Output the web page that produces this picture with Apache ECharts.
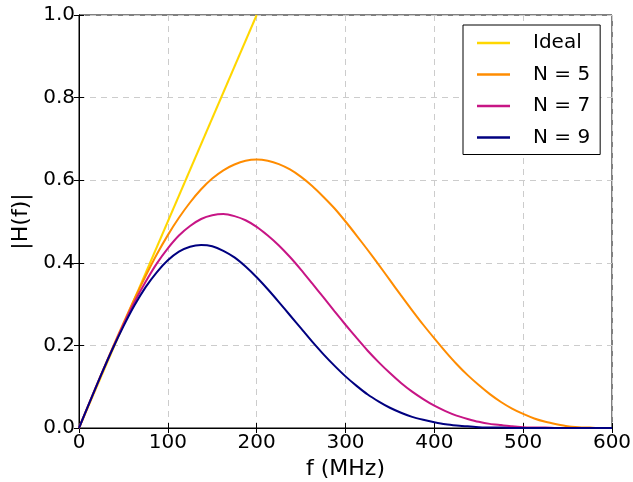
<!DOCTYPE html>
<html>
<head>
<meta charset="utf-8">
<script src="https://cdn.jsdelivr.net/npm/echarts@6/dist/echarts.min.js"></script>
<style>html,body{margin:0;padding:0;background:#fff}#c{width:633px;height:482px}</style>
</head>
<body>
<div id="c"></div>
<script>
const freqs = [0,12.5,25,37.5,50,62.5,75,87.5,100,112.5,125,137.5,150,162.5,175,187.5,200,212.5,225,237.5,250,262.5,275,287.5,300,312.5,325,337.5,350,362.5,375,387.5,400,412.5,425,437.5,450,462.5,475,487.5,500,512.5,525,537.5,550,562.5,575,587.5,600];
const idealF = [0, 200];
const idealH = [0, 1.0];
const n5 = [0,0.065,0.130,0.193,0.254,0.313,0.368,0.420,0.467,0.509,0.546,0.578,0.604,0.624,0.638,0.647,0.650,0.647,0.639,0.626,0.608,0.586,0.560,0.532,0.500,0.466,0.431,0.395,0.358,0.321,0.285,0.250,0.217,0.185,0.155,0.128,0.104,0.082,0.063,0.047,0.034,0.023,0.015,0.009,0.004,0.002,0.001,0,0];
const n7 = [0,0.065,0.129,0.191,0.250,0.305,0.354,0.398,0.435,0.466,0.489,0.506,0.515,0.518,0.513,0.503,0.487,0.466,0.442,0.414,0.383,0.350,0.317,0.283,0.250,0.218,0.187,0.159,0.133,0.109,0.088,0.070,0.054,0.041,0.030,0.022,0.015,0.010,0.007,0.004,0.002,0.001,0.001,0,0,0,0,0,0];
const n9 = [0,0.065,0.129,0.190,0.246,0.297,0.341,0.377,0.406,0.427,0.439,0.443,0.440,0.429,0.413,0.391,0.365,0.336,0.305,0.273,0.241,0.209,0.179,0.151,0.125,0.102,0.081,0.064,0.049,0.037,0.027,0.020,0.014,0.009,0.006,0.004,0.002,0.001,0.001,0,0,0,0,0,0,0,0,0,0];
const xTicks = [0,100,200,300,400,500,600];
const yTicks = [0,0.2,0.4,0.6,0.8,1.0];

const pair = (xs, ys) => xs.map((x, i) => [x, ys[i]]);
const FONT = 'DejaVu Sans';
const chart = echarts.init(document.getElementById('c'), null, {renderer: 'canvas'});

const splitStyle = {show: true, lineStyle: {color: '#cccccc', width: 1, type: [6, 5]}};
function series(name, data, color) {
  return {name, type: 'line', data, showSymbol: false, symbol: 'none', smooth: 0.2,
    lineStyle: {color, width: 2}, itemStyle: {color}, xAxisIndex: 0, yAxisIndex: 0, z: 3};
}

chart.setOption({
  animation: false,
  backgroundColor: '#ffffff',
  textStyle: {fontFamily: FONT},
  grid: {left: 79, right: 21, top: 15, bottom: 54, show: true, borderColor: '#000', borderWidth: 1,
    containLabel: false, outerBoundsMode: 'none'},
  legend: {
    orient: 'vertical', left: 463, top: 25,
    padding: [8, 10, 7, 14],
    borderColor: '#000', borderWidth: 1, borderRadius: 0, backgroundColor: '#fff',
    icon: 'rect',
    itemWidth: 33, itemHeight: 2.5, itemGap: 11.5,
    textStyle: {fontFamily: FONT, fontSize: 20, color: '#000', lineHeight: 20, padding: [0, 0, 0, 18]},
    data: ['Ideal', 'N = 5', 'N = 7', 'N = 9'],
    z: 10
  },
  xAxis: [{
    type: 'value', min: 0, max: 600, interval: 100, position: 'bottom',
    name: 'f (MHz)', nameLocation: 'middle', nameGap: 16,
    nameTextStyle: {fontFamily: FONT, fontSize: 22, color: '#000'},
    axisLine: {show: true, lineStyle: {color: '#000', width: 1}},
    axisTick: {show: true, inside: true, length: 5, lineStyle: {color: '#000'}},
    axisLabel: {fontFamily: FONT, fontSize: 20, color: '#000', margin: 5,
      formatter: v => String(v)},
    splitLine: splitStyle
  }, {
    type: 'value', min: 0, max: 600, interval: 100, position: 'top',
    axisLine: {show: true, lineStyle: {color: '#000', width: 1}},
    axisTick: {show: true, inside: true, length: 5, lineStyle: {color: '#000'}},
    axisLabel: {show: false}, splitLine: {show: false}
  }],
  yAxis: [{
    type: 'value', min: 0, max: 1, interval: 0.2, position: 'left',
    name: '|H(f)|', nameLocation: 'middle', nameGap: 42, nameRotate: 90,
    nameTextStyle: {fontFamily: FONT, fontSize: 22, color: '#000'},
    axisLine: {show: true, lineStyle: {color: '#000', width: 1}},
    axisTick: {show: true, inside: true, length: 5, lineStyle: {color: '#000'}},
    axisLabel: {fontFamily: FONT, fontSize: 20, color: '#000', margin: 4,
      formatter: v => v.toFixed(1)},
    splitLine: splitStyle
  }, {
    type: 'value', min: 0, max: 1, interval: 0.2, position: 'right',
    axisLine: {show: true, lineStyle: {color: '#000', width: 1}},
    axisTick: {show: true, inside: true, length: 5, lineStyle: {color: '#000'}},
    axisLabel: {show: false}, splitLine: {show: false}
  }],
  series: [
    series('Ideal', pair(idealF, idealH), '#FFD700'),
    series('N = 5', pair(freqs, n5), '#FF8C00'),
    series('N = 7', pair(freqs, n7), '#C71585'),
    series('N = 9', pair(freqs, n9), '#000080')
  ]
});
</script>
</body>
</html>
